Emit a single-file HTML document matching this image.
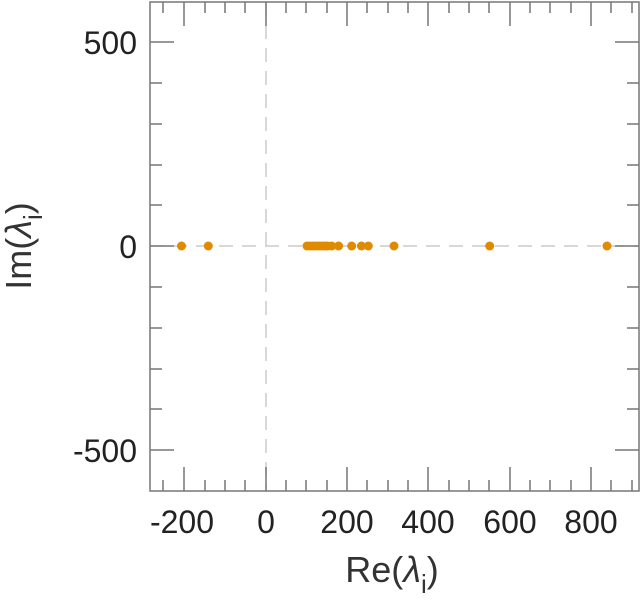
<!DOCTYPE html>
<html><head><style>body{margin:0;background:#fff}</style></head><body>
<svg width="641" height="600" xmlns="http://www.w3.org/2000/svg" font-family="Liberation Sans, sans-serif">
<rect width="641" height="600" fill="#fff"/>
<line x1="266" y1="2" x2="266" y2="491" stroke="#cccccc" stroke-width="1.5" stroke-dasharray="14,9"/>
<line x1="150" y1="246" x2="639" y2="246" stroke="#cccccc" stroke-width="1.5" stroke-dasharray="14,9"/>
<g stroke="#777" stroke-width="1.5" fill="none">
<rect x="150" y="2" width="489" height="489"/>
<path d="M163 2v11M163 491v-11M184 2v24M184 491v-24M205 2v11M205 491v-11M225 2v11M225 491v-11M245 2v11M245 491v-11M266 2v24M266 491v-24M286 2v11M286 491v-11M306 2v11M306 491v-11M327 2v11M327 491v-11M347 2v24M347 491v-24M367 2v11M367 491v-11M388 2v11M388 491v-11M408 2v11M408 491v-11M428 2v24M428 491v-24M449 2v11M449 491v-11M469 2v11M469 491v-11M489 2v11M489 491v-11M510 2v24M510 491v-24M530 2v11M530 491v-11M550 2v11M550 491v-11M571 2v11M571 491v-11M591 2v24M591 491v-24M611 2v11M611 491v-11M632 2v11M632 491v-11"/>
<path d="M150 42h24M639 42h-24M150 246h24M639 246h-24M150 450h24M639 450h-24M150 83h12M639 83h-12M150 124h12M639 124h-12M150 165h12M639 165h-12M150 205h12M639 205h-12M150 287h12M639 287h-12M150 328h12M639 328h-12M150 369h12M639 369h-12M150 409h12M639 409h-12"/>
</g>
<g font-size="32" fill="#222" text-anchor="end">
<text x="137" y="54">500</text><text x="137" y="258">0</text><text x="137" y="462">-500</text>
</g>
<g font-size="32" fill="#222" text-anchor="middle">
<text x="182" y="533">-200</text><text x="266" y="533">0</text><text x="347" y="533">200</text><text x="428" y="533">400</text><text x="510" y="533">600</text><text x="591" y="533">800</text>
</g>
<text x="392" y="582" font-size="36" fill="#333" text-anchor="middle">Re(<tspan font-style="italic">λ</tspan><tspan font-size="26" dy="11">i</tspan><tspan dy="-11">)</tspan></text>
<text transform="translate(31,246) rotate(-90)" font-size="36" fill="#333" text-anchor="middle">Im(<tspan font-style="italic">λ</tspan><tspan font-size="26" dy="11">i</tspan><tspan dy="-11">)</tspan></text>
<g fill="#e08a00">
<circle cx="181.5" cy="246" r="4.5"/><circle cx="208.3" cy="246" r="4.5"/>
<circle cx="307" cy="246" r="4.5"/><circle cx="310" cy="246" r="4.5"/><circle cx="313" cy="246" r="4.5"/><circle cx="316" cy="246" r="4.5"/><circle cx="319" cy="246" r="4.5"/><circle cx="322" cy="246" r="4.5"/><circle cx="325" cy="246" r="4.5"/><circle cx="327.5" cy="246" r="4.5"/>
<circle cx="331.7" cy="246" r="4.5"/><circle cx="338.6" cy="246" r="4.5"/><circle cx="351.7" cy="246" r="4.5"/><circle cx="361.4" cy="246" r="4.5"/><circle cx="368.3" cy="246" r="4.5"/><circle cx="394" cy="246" r="4.5"/><circle cx="489.7" cy="246" r="4.5"/><circle cx="607" cy="246" r="4.5"/>
</g>
</svg>
</body></html>
